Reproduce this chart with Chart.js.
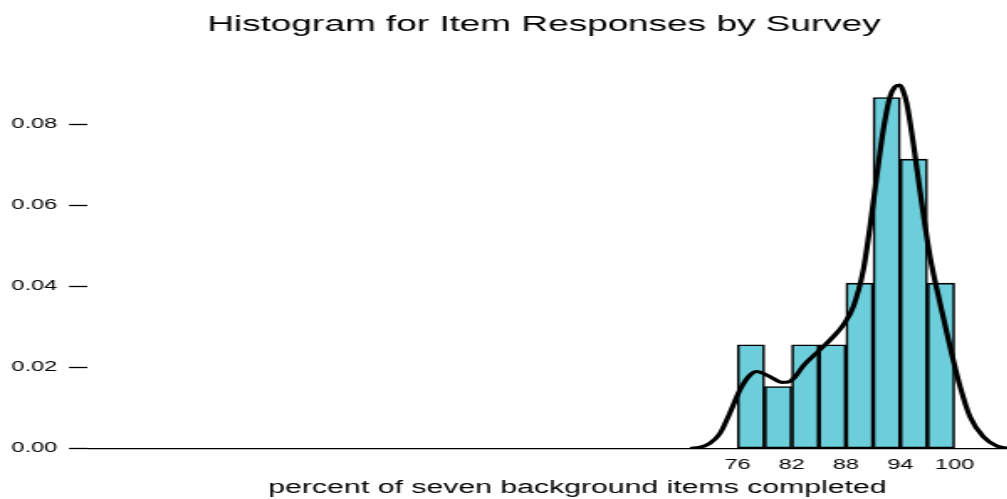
<!DOCTYPE html>
<html>
<head>
<meta charset="utf-8">
<script src="https://cdn.jsdelivr.net/npm/chart.js@4.4.1/dist/chart.umd.min.js"></script>
<style>
  html, body { margin: 0; padding: 0; background: #fff; overflow: hidden; }
  #wrap { width: 1007px; height: 499px; overflow: hidden; position: relative; background: #fff; }
  #c { display: block; }
</style>
</head>
<body>
<div id="wrap">
  <canvas id="c" width="648" height="499" style="width:1088px;height:499px"></canvas>
</div>
<script>
// Histogram bins (percent completed, bin width 3) and their densities
const binStarts = [76, 79, 82, 85, 88, 91, 94, 97];
const binWidth = 3;
const binDensity = [0.0256, 0.0153, 0.0256, 0.0256, 0.0408, 0.0866, 0.0714, 0.0408];

// Kernel density estimate drawn over the bars
const kdeX = [70.8, 71.85, 72.96, 74.06, 75.17, 76.28, 77.38, 78.12, 79.0, 80.0,
              80.89, 81.6, 82.3, 83.28, 84.94, 86.6, 87.7, 88.81, 89.91, 90.65, 91.39, 92.12,
              92.86, 93.4, 93.95, 94.3, 94.71, 95.44, 96.37, 97.29, 98.4, 99.5, 100.61, 101.71,
              103.18, 104.67, 105.9];
const kdeY = [0, 0.0003, 0.0013, 0.0037, 0.0088, 0.0145, 0.0181, 0.0190, 0.0184, 0.0172,
              0.0163, 0.0164, 0.0175, 0.0204, 0.0240, 0.0276, 0.0305, 0.0350, 0.0440, 0.0547, 0.0671, 0.0786,
              0.0868, 0.0892, 0.0897, 0.0883, 0.0852, 0.0753, 0.0605, 0.0473, 0.0358, 0.0251, 0.0153, 0.0078,
              0.0029, 0.0006, 0];

// Axis tick labels
const xTickValues = [76, 82, 88, 94, 100];
const yTickStep = 0.02;

const titleText = 'Histogram for Item Responses by Survey';
const xTitleText = 'percent of seven background items completed';

Chart.defaults.font.family = "'Liberation Sans', Arial, Helvetica, sans-serif";
Chart.defaults.color = '#000';

const barPoints = binStarts.map((s, i) => ({ x: s + binWidth / 2, y: binDensity[i] }));
const kdePoints = kdeX.map((x, i) => ({ x: x, y: kdeY[i] }));

new Chart(document.getElementById('c'), {
  type: 'bar',
  data: {
    datasets: [
      {
        type: 'line',
        data: kdePoints,
        borderColor: '#000',
        borderWidth: 3.2,
        pointRadius: 0,
        fill: false,
        cubicInterpolationMode: 'monotone',
        order: 0
      },
      {
        type: 'bar',
        data: barPoints,
        backgroundColor: '#6ccedb',
        borderColor: '#000',
        borderWidth: 1.6,
        borderSkipped: false,
        barPercentage: 1,
        categoryPercentage: 1,
        order: 1
      }
    ]
  },
  options: {
    responsive: false,
    animation: false,
    devicePixelRatio: 1,
    layout: { padding: { left: 0, right: 0, top: 0, bottom: 0 } },
    plugins: {
      legend: { display: false },
      tooltip: { enabled: false },
      title: {
        display: true,
        text: titleText,
        color: '#000',
        font: { size: 22, weight: 'normal' },
        padding: { top: 11.5, bottom: 25.6 }
      }
    },
    scales: {
      x: {
        type: 'linear',
        min: 4.21,
        max: 112.43,
        offset: false,
        grid: { display: false, drawTicks: false },
        border: { display: true, color: '#000', width: 1.3 },
        ticks: {
          padding: 8.6,
          font: { size: 14 },
          color: '#000',
          maxRotation: 0,
          autoSkip: false
        },
        afterBuildTicks: (scale) => { scale.ticks = xTickValues.map(v => ({ value: v })); },
        afterFit: (scale) => { scale.height = 50.5; },
        title: {
          display: true,
          text: xTitleText,
          color: '#000',
          font: { size: 18 },
          padding: { top: 0, bottom: 0 }
        }
      },
      y: {
        type: 'linear',
        position: 'left',
        min: 0,
        max: 0.095,
        grid: {
          display: true,
          drawOnChartArea: false,
          drawTicks: true,
          tickLength: 11.3,
          tickColor: '#000',
          tickWidth: 1.3
        },
        border: { display: false },
        ticks: {
          stepSize: yTickStep,
          includeBounds: false,
          padding: 7,
          font: { size: 14 },
          color: '#000',
          callback: (v) => v.toFixed(2)
        },
        afterFit: (scale) => { scale.width = 52.4; }
      },
      margin: {
        type: 'linear',
        position: 'right',
        display: true,
        grid: { display: false },
        border: { display: false },
        ticks: { display: false },
        afterFit: (scale) => { scale.width = 12.5; }
      }
    }
  }
});
</script>
</body>
</html>
